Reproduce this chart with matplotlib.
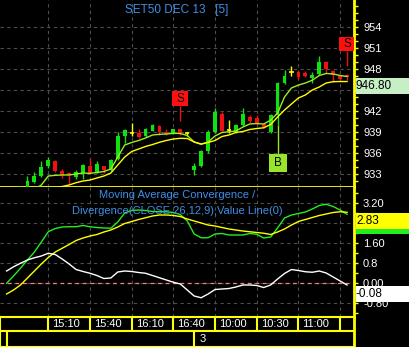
import matplotlib
matplotlib.use("Agg")
import matplotlib.pyplot as plt
import matplotlib.transforms as mtransforms
from matplotlib.patches import Rectangle
import numpy as np

plt.rcParams['font.family'] = ['Liberation Sans', 'DejaVu Sans']

# chart texts
title = "SET50 DEC 13   [5]"
macd_title_1 = "Moving Average Convergence /"
macd_title_2 = "Divergence(CLOSE,26,12,9),Value Line(0)"

# 5-minute candles
opens = [929.5, 929.8, 930.3, 931.1, 931.9, 932.7, 934.1, 934.8, 933.5, 933.1,
         932.6, 933.1, 934.1, 933.3, 934.1, 933.6, 935.2, 938.4, 938.8, 938.9,
         938.4, 939.2, 939.9, 939.0, 938.8, 939.4, 938.8, 933.6, 934.1, 936.3,
         939.0, 941.6, 939.3, 939.0, 940.0, 941.1, 941.0, 940.1, 939.0, 941.4,
         946.0, 947.6, 947.5, 947.4, 946.7, 947.3, 949.0, 947.7, 947.0, 947.2]
highs = [930.2, 930.6, 931.3, 932.7, 933.3, 934.8, 935.5, 935.0, 933.7, 933.3,
         933.6, 934.4, 935.3, 934.9, 934.2, 935.2, 939.0, 939.5, 940.3, 939.4,
         939.6, 940.2, 940.0, 939.4, 939.5, 939.5, 939.0, 934.6, 936.4, 939.3,
         942.4, 941.9, 940.7, 940.1, 942.5, 941.4, 941.4, 940.3, 941.6, 946.1,
         947.8, 948.4, 947.8, 947.7, 947.6, 949.9, 949.1, 947.8, 947.1, 947.3]
lows = [929.2, 929.6, 930.1, 930.8, 931.7, 932.6, 933.9, 933.3, 932.4, 931.6,
        932.3, 932.3, 933.0, 933.2, 933.1, 933.4, 935.0, 937.4, 938.4, 938.2,
        938.3, 939.1, 938.6, 938.6, 938.7, 938.6, 938.4, 932.8, 934.0, 936.0,
        938.9, 939.1, 938.8, 938.9, 939.9, 940.3, 940.0, 939.6, 938.9, 940.0,
        945.8, 947.0, 946.6, 946.9, 946.0, 947.2, 947.4, 946.2, 946.4, 946.4]
closes = [929.8, 930.3, 930.9, 932.0, 932.7, 934.0, 935.0, 933.4, 932.9, 932.8,
          933.3, 934.3, 933.1, 934.4, 933.6, 935.0, 938.4, 939.3, 938.8, 938.3,
          939.4, 940.0, 939.0, 938.7, 939.4, 938.7, 938.8, 934.1, 936.3, 939.0,
          941.8, 939.2, 939.3, 940.0, 941.6, 940.6, 940.1, 939.7, 941.4, 946.0,
          947.0, 947.6, 946.9, 947.0, 947.1, 949.0, 948.0, 947.1, 946.5, 946.8]

# moving averages drawn on the price panel
ma_fast = [929.6, 929.9, 930.2, 930.5, 930.86, 931.43, 932.71, 932.81, 932.86, 932.86,
           933.0, 933.14, 933.1, 933.21, 933.36, 933.71, 935.43, 937.14, 937.5, 937.79,
           938.14, 938.57, 938.67, 938.71, 938.81, 938.79, 938.5, 937.57, 937.24, 937.57,
           938.43, 938.93, 939.04, 939.14, 939.71, 940.14, 940.21, 940.14, 940.7, 941.7,
           944.0, 945.29, 945.7, 946.0, 946.4, 947.07, 947.36, 947.29, 947.07, 946.93]
ma_slow = [929.0, 929.2, 929.5, 929.8, 930.1, 930.4, 930.7, 931.0, 931.21, 931.43,
           931.76, 932.0, 932.14, 932.43, 932.71, 933.14, 934.29, 935.43, 936.21, 936.57,
           936.93, 937.21, 937.53, 937.79, 938.0, 938.1, 938.07, 937.57, 937.29, 937.5,
           937.79, 938.36, 938.57, 938.93, 939.07, 939.36, 939.5, 939.6, 940.07, 941.14,
           942.14, 943.0, 943.86, 944.29, 945.0, 945.43, 946.0, 946.19, 946.21, 946.21]

# MACD panel
macd_green = [-0.01, 0.28, 0.59, 0.92, 1.24, 1.64, 2.05, 2.18, 2.24, 2.25,
              2.25, 2.30, 2.25, 2.22, 2.20, 2.19, 2.44, 2.80, 2.90, 2.92,
              2.90, 2.86, 2.85, 2.85, 2.82, 2.74, 2.48, 1.96, 1.81, 1.81,
              1.96, 1.98, 1.92, 1.92, 1.92, 1.98, 1.95, 1.80, 1.84, 2.20,
              2.60, 2.72, 2.78, 2.84, 2.96, 3.10, 3.15, 3.06, 2.92, 2.75]
macd_yellow = [-0.44, -0.28, -0.08, 0.20, 0.48, 0.76, 1.02, 1.24, 1.39, 1.54,
               1.70, 1.80, 1.88, 1.94, 2.04, 2.12, 2.24, 2.38, 2.46, 2.54,
               2.61, 2.68, 2.72, 2.72, 2.70, 2.66, 2.56, 2.48, 2.40, 2.32,
               2.28, 2.22, 2.16, 2.12, 2.08, 2.05, 2.02, 1.99, 1.94, 2.04,
               2.16, 2.32, 2.46, 2.54, 2.62, 2.70, 2.76, 2.82, 2.85, 2.83]
macd_white = [0.48, 0.65, 0.79, 0.92, 1.01, 1.08, 1.19, 1.14, 0.96, 0.76,
              0.54, 0.46, 0.39, 0.30, 0.18, 0.20, 0.44, 0.48, 0.46, 0.42,
              0.39, 0.30, 0.21, 0.12, 0.03, -0.04, -0.28, -0.52, -0.59, -0.44,
              -0.26, -0.24, -0.22, -0.16, -0.08, -0.08, -0.10, -0.18, -0.08, 0.16,
              0.38, 0.54, 0.50, 0.45, 0.43, 0.48, 0.40, 0.24, 0.08, -0.08]

# axis ticks and labels (945 and 2.40 sit under the value boxes)
time_ticks = [6, 12, 18, 24, 30, 36, 42, 48]
time_labels = ['15:10', '15:40', '16:10', '16:40', '10:00', '10:30', '11:00', '']
day_breaks = [0, 27]
day_labels = ['', '3']
price_ticks = [933, 936, 939, 942, 945, 948, 951, 954]
price_tick_labels = ['933', '936', '939', '942', '', '948', '951', '954']
macd_ticks = [-0.8, 0.0, 0.8, 1.6, 2.4, 3.2]
macd_tick_labels = ['-0.80', '0.00', '0.8', '1.60', '', '3.20']

# trade signals
signal_bars = [25, 39, 49]
signal_types = ['S', 'B', 'S']

YEL = '#ffff00'
BLUE = '#3f8fe6'
UP = '#11e011'
DOWN = '#ee1111'
GRID = '#4d4d4d'

W, H = 412, 347
fig = plt.figure(figsize=(W / 100, H / 100), dpi=100, facecolor='black')


def add_panel(top, bottom):
    ax = fig.add_axes([0, 1 - bottom / H, 354 / W, (bottom - top) / H])
    ax.set_facecolor('black')
    for s in ax.spines.values():
        s.set_visible(False)
    ax.set_xlim(-0.95, 50.0)
    return ax


def value_box(ax, value, label, face):
    lo, hi = ax.get_ylim()
    ppu = ax.bbox.height / (hi - lo)
    top = value - 1 / ppu
    h = 16 / ppu
    trans = mtransforms.blended_transform_factory(ax.transAxes, ax.transData)
    x0 = 1.0 + 1.5 / ax.bbox.width
    ax.add_patch(Rectangle((x0, top - h), 55 / ax.bbox.width, h, transform=trans,
                           facecolor=face, edgecolor='none', clip_on=False, zorder=6))
    ax.text(x0 + 0.5 / ax.bbox.width, top - h / 2, label, transform=trans, ha='left',
            va='center', fontsize=8.5, color='black', clip_on=False, zorder=7)


def right_axis(ax, ticks, labels, minor):
    ax.yaxis.tick_right()
    ax.set_yticks(ticks)
    ax.set_yticklabels(labels)
    ax.set_yticks(minor, minor=True)
    ax.tick_params(axis='y', which='both', direction='out', length=3, width=1,
                   color=YEL, labelcolor='white', labelsize=8, pad=3.5)
    ax.set_xticks(time_ticks)
    ax.tick_params(axis='x', which='both', length=0, labelbottom=False)
    ax.grid(True, which='major', color=GRID, linestyle=(0, (3, 3)), linewidth=0.8)
    ax.spines['right'].set_visible(True)
    ax.spines['right'].set_color(YEL)
    ax.spines['right'].set_linewidth(2)


# ---- price panel
ax_p = add_panel(0, 187)
ax_p.set_ylim(931.143, 957.857)
right_axis(ax_p, price_ticks, price_tick_labels, np.arange(932, 958))
ax_p.spines['bottom'].set_visible(True)
ax_p.spines['bottom'].set_color(YEL)
ax_p.spines['bottom'].set_linewidth(2)

x = np.arange(len(opens))
o = np.array(opens)
c = np.array(closes)
cols = np.where(c > o, UP, np.where(c < o, DOWN, YEL))
ax_p.vlines(x, lows, highs, colors=cols, lw=1, zorder=3)
ax_p.bar(x, np.abs(c - o), bottom=np.minimum(o, c), width=0.55, color=cols, lw=0, zorder=3)
flat = c == o
ax_p.hlines(c[flat], x[flat] - 0.3, x[flat] + 0.3, colors=YEL, lw=1.2, zorder=3)

ax_p.plot(x, ma_fast, color='#99ee22', lw=1, zorder=4)
ax_p.plot(x, ma_slow, color=YEL, lw=1, zorder=4)

for b, kind in zip(signal_bars, signal_types):
    if kind == 'S':
        base = highs[b] + 1.1
        stem_top = base + 2.1
        ax_p.vlines(b, base, stem_top, colors=DOWN, lw=1, zorder=5)
        ax_p.add_patch(Rectangle((b - 1.15, stem_top), 2.3, 2.14, facecolor='#ff1010',
                                 edgecolor='none', zorder=5))
        ax_p.text(b, stem_top + 1.07, 'S', ha='center', va='center', fontsize=8.5,
                  color='black', zorder=6)
    else:
        base = lows[b]
        stem_bot = base - 4.1
        ax_p.vlines(b, stem_bot, base, colors='#99e52b', lw=1, zorder=5)
        ax_p.add_patch(Rectangle((b - 1.3, stem_bot - 2.57), 2.6, 2.57, facecolor='#99e52b',
                                 edgecolor='none', zorder=5))
        ax_p.text(b, stem_bot - 1.28, 'B', ha='center', va='center', fontsize=8.5,
                  color='black', zorder=6)

ax_p.text(0.5, 1 - 10 / 187, title, transform=ax_p.transAxes, ha='center', va='center',
          color=BLUE, fontsize=8.5)
value_box(ax_p, closes[-1], f"{closes[-1]:.2f}", '#c6efc6')

# ---- MACD panel
ax_m = add_panel(187, 316.5)
ax_m.set_ylim(-1.34, 3.84)
right_axis(ax_m, macd_ticks, macd_tick_labels, np.arange(-1.2, 3.7, 0.4))
ax_m.axhline(0, color='#ff7f7f', linestyle=(0, (3, 3)), lw=0.9, zorder=2)
ax_m.plot(x, macd_green, color='#22ee22', lw=1, zorder=3)
ax_m.plot(x, macd_yellow, color=YEL, lw=1, zorder=3)
ax_m.plot(x, macd_white, color='white', lw=1, zorder=3)
ax_m.text(0.5, (316.5 - 195) / 129.5, macd_title_1, transform=ax_m.transAxes,
          ha='center', va='center', color=BLUE, fontsize=8)
ax_m.text(0.5, (316.5 - 211) / 129.5, macd_title_2, transform=ax_m.transAxes,
          ha='center', va='center', color=BLUE, fontsize=8)
value_box(ax_m, macd_green[-1] - 0.12, '', '#22ee22')
value_box(ax_m, macd_yellow[-1], f"{macd_yellow[-1]:.2f}", YEL)
value_box(ax_m, macd_white[-1], f"{macd_white[-1]:.2f}", 'white')

# ---- time / date rows
ax_t = add_panel(316.5, 347)
ax_t.set_ylim(30.5, 0)
ax_t.set_xticks([])
ax_t.set_yticks([])
for side in ['left', 'top', 'bottom', 'right']:
    ax_t.spines[side].set_visible(True)
    ax_t.spines[side].set_color(YEL)
    ax_t.spines[side].set_linewidth(1.5)
ax_t.spines['right'].set_linewidth(2)
ax_t.axhline(14.5, color=YEL, lw=1.5)
ax_t.vlines(time_ticks, 0, 14.5, colors=YEL, lw=1.5)
ax_t.vlines(day_breaks, 14.5, 30.5, colors=YEL, lw=1.5)
for t, lab in zip(time_ticks, time_labels):
    ax_t.annotate(lab, xy=(t, 7.4), xytext=(3, 0), textcoords='offset points',
                  ha='left', va='center', color='white', fontsize=8)
for t, lab in zip(day_breaks, day_labels):
    ax_t.annotate(lab, xy=(t, 22.8), xytext=(3.6, 0), textcoords='offset points',
                  ha='left', va='center', color='white', fontsize=8)

# thin white edge at the far right
fig.add_artist(Rectangle((409 / W, 0), 3 / W, 1, transform=fig.transFigure,
                         facecolor='white', edgecolor='none'))

fig.savefig('out.png', dpi=100, facecolor='black')
